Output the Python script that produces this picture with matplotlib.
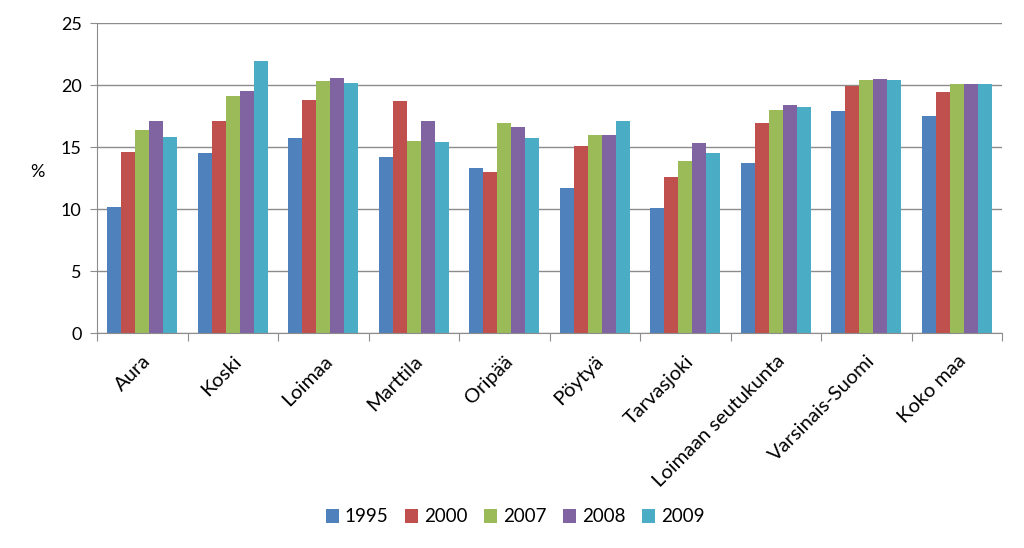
import numpy as np
import matplotlib.pyplot as plt

plt.rcParams['font.family'] = ['Lato', 'DejaVu Sans']

categories = ['Aura', 'Koski', 'Loimaa', 'Marttila', 'Oripää', 'Pöytyä',
              'Tarvasjoki', 'Loimaan seutukunta', 'Varsinais-Suomi', 'Koko maa']
years = ['1995', '2000', '2007', '2008', '2009']
v1995 = [10.2, 14.5, 15.7, 14.2, 13.3, 11.7, 10.1, 13.7, 17.9, 17.5]
v2000 = [14.6, 17.1, 18.8, 18.7, 13.0, 15.1, 12.6, 16.9, 19.9, 19.4]
v2007 = [16.4, 19.1, 20.3, 15.5, 16.9, 16.0, 13.9, 18.0, 20.4, 20.1]
v2008 = [17.1, 19.5, 20.6, 17.1, 16.6, 16.0, 15.3, 18.4, 20.5, 20.1]
v2009 = [15.8, 21.9, 20.2, 15.4, 15.7, 17.1, 14.5, 18.2, 20.4, 20.1]
series = [v1995, v2000, v2007, v2008, v2009]
colors = ['#4F81BD', '#C0504D', '#9BBB59', '#8064A2', '#4BACC6']

fig = plt.figure(figsize=(10.24, 5.48), dpi=100)
ax = fig.add_axes([97/1024, 1 - 333/548, (1002 - 97)/1024, (333 - 23)/548])

x = np.arange(len(categories))
w = 0.154
for i, (vals, c, yr) in enumerate(zip(series, colors, years)):
    ax.bar(x + (i - 2) * w, vals, w, color=c, label=yr, zorder=2)

ax.set_xlim(-0.5, len(categories) - 0.5)
ax.set_ylim(0, 25)
ax.set_yticks(range(0, 26, 5))
ax.yaxis.grid(True, color='#8c8c8c', linewidth=1, zorder=0)
for s in ['top', 'right']:
    ax.spines[s].set_visible(False)
for s in ['left', 'bottom']:
    ax.spines[s].set_color('#8c8c8c')

# ticks between groups, labels under group centres
ax.set_xticks(np.arange(len(categories) + 1) - 0.5)
ax.set_xticklabels([])
ax.set_xticks(x, minor=True)
ax.set_xticklabels(categories, minor=True, rotation=45, ha='right',
                   rotation_mode='anchor', fontsize=14.5)
ax.tick_params(axis='x', which='major', length=6, color='#8c8c8c')
ax.tick_params(axis='x', which='minor', length=0, pad=14)
ax.tick_params(axis='y', length=5, color='#8c8c8c', labelsize=13, pad=6)

fig.text(37/1024, 1 - 172/548, '%', fontsize=13, ha='center', va='center')

ax.legend(loc='center', bbox_to_anchor=(0.503, 1 - 517/548), bbox_transform=fig.transFigure,
          ncol=5, frameon=False, fontsize=13.5, handlelength=0.7, handleheight=0.7,
          handletextpad=0.3, columnspacing=0.9)

fig.savefig('out.png', dpi=100)
